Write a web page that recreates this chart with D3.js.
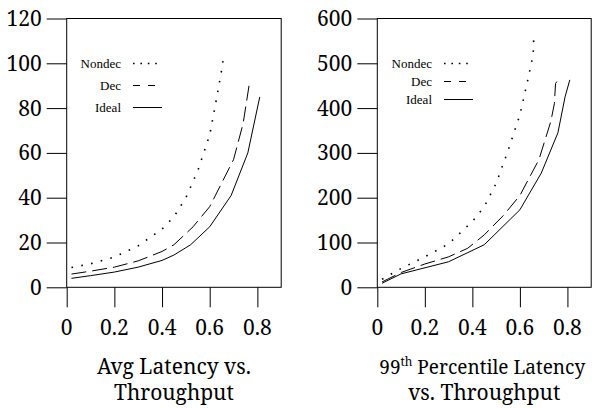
<!DOCTYPE html>
<html><head><meta charset="utf-8">
<script src="https://cdn.jsdelivr.net/npm/d3@7"></script>
<style>body{margin:0;background:#fff}svg{display:block}</style>
</head><body><svg id="c" width="595" height="408"></svg>
<script>
// ---- data ----
const seriesNames = ["Nondec", "Dec", "Ideal"];
const xTicks = [0, 0.2, 0.4, 0.6, 0.8];
const xTickLabels = ["0", "0.2", "0.4", "0.6", "0.8"];
const avgYTicks = [0, 20, 40, 60, 80, 100, 120];
const p99YTicks = [0, 100, 200, 300, 400, 500, 600];

const avgNondec = [[0.02,8.8],[0.1,10.5],[0.2,13.5],[0.3,18.5],[0.4,26],[0.45,31.5],[0.5,40],[0.55,52],[0.6,68],[0.63,85],[0.65,97],[0.66,104]];
const avgDec = [[0.02,5.9],[0.1,7.2],[0.2,9],[0.3,11.8],[0.4,16],[0.45,19],[0.53,27],[0.6,36],[0.7,57],[0.74,73],[0.765,90]];
const avgIdeal = [[0.02,4],[0.1,5.2],[0.2,6.8],[0.3,9],[0.4,12],[0.45,14.4],[0.52,19],[0.6,27],[0.69,41],[0.76,60],[0.81,85]];

const p99Nondec = [[0.02,18],[0.1,42],[0.2,68],[0.3,97],[0.4,147],[0.45,180],[0.5,232],[0.55,305],[0.6,385],[0.63,455],[0.65,505],[0.66,540],[0.655,560]];
const p99Dec = [[0.02,12],[0.1,33],[0.2,52],[0.3,68],[0.38,87],[0.45,117],[0.53,160],[0.6,205],[0.68,285],[0.73,370],[0.745,410],[0.75,455],[0.77,470]];
const p99Ideal = [[0.02,9],[0.1,30],[0.3,57],[0.45,95],[0.6,173],[0.69,255],[0.76,345],[0.79,425],[0.81,463]];

const BIG_FONT = "Noto Serif";
const SMALL_FONT = "Liberation Serif";
const BIG = 21;
const svg = d3.select("#c");
const styles = {
  Nondec: {plot: "1.6,8.4", legend: "1.6,5.8", width: 1.6},
  Dec: {plot: "15,6", legend: "7,8", width: 1},
  Ideal: {plot: null, legend: null, width: 1}
};

function addText(x, y, str, size, anchor, dy, font) {
  const t = svg.append("text").attr("x", x).attr("y", y)
    .attr("font-family", font || BIG_FONT).attr("font-size", size)
    .attr("text-anchor", anchor || "start").attr("fill", "#000");
  if (dy) t.attr("dy", dy);
  if (str !== null) t.text(str);
  return t;
}

function panel(opts) {
  const {left, right, top, bottom, yMax, yTicks, series, legendX, legendY, legendStep, title} = opts;
  const x = d3.scaleLinear().domain([0, 0.9]).range([left, right]);
  const y = d3.scaleLinear().domain([0, yMax]).range([bottom, top]);
  const g = svg.append("g");

  const ya = g.append("g").attr("transform", `translate(${left},0)`)
    .call(d3.axisLeft(y).tickValues(yTicks).tickSize(20).tickFormat(""));
  ya.select(".domain").remove();
  ya.selectAll("line").attr("stroke", "#000");
  yTicks.forEach(v => addText(left - 25, y(v), String(v), BIG, "end", "0.36em"));

  const xa = g.append("g").attr("transform", `translate(0,${bottom})`)
    .call(d3.axisBottom(x).tickValues(xTicks).tickSize(20).tickFormat(""));
  xa.select(".domain").remove();
  xa.selectAll("line").attr("stroke", "#000");
  xTicks.forEach((v, i) => addText(x(v), bottom + 48, xTickLabels[i], BIG, "middle"));

  g.append("rect").attr("x", x(0)).attr("y", y(yMax)).attr("width", x(0.9) - x(0)).attr("height", y(0) - y(yMax))
    .attr("fill", "none").attr("stroke", "#000").attr("stroke-width", 1);

  const line = d3.line().x(d => x(d[0])).y(d => y(d[1]));
  series.forEach((s, i) => {
    const st = styles[seriesNames[i]];
    g.append("path").datum(s).attr("d", line).attr("fill", "none").attr("stroke", "#000")
      .attr("stroke-width", st.width).attr("stroke-dasharray", st.plot);
    const ly = legendY + i * legendStep;
    addText(legendX, ly, seriesNames[i], 13, "end", "0.35em", SMALL_FONT);
    g.append("line").attr("x1", legendX + 12).attr("x2", legendX + 41).attr("y1", ly).attr("y2", ly)
      .attr("stroke", "#000").attr("stroke-width", st.width).attr("stroke-dasharray", st.legend);
  });

  title((left + right) / 2);
}

panel({left: 66.7, right: 281.2, top: 18.5, bottom: 287.3, yMax: 120, yTicks: avgYTicks,
  series: [avgNondec, avgDec, avgIdeal], legendX: 121, legendY: 63.5, legendStep: 22,
  title: cx => { addText(cx, 374, "Avg Latency vs.", BIG, "middle"); addText(cx, 400, "Throughput", BIG, "middle"); }});

panel({left: 377.3, right: 591.2, top: 18.5, bottom: 287.3, yMax: 600, yTicks: p99YTicks,
  series: [p99Nondec, p99Dec, p99Ideal], legendX: 432, legendY: 63.5, legendStep: 18,
  title: cx => {
    const t = addText(cx - 2, 374, null, 19, "middle");
    t.append("tspan").text("99");
    t.append("tspan").attr("dy", -8).attr("font-size", 12).text("th");
    t.append("tspan").attr("dy", 8).text(" Percentile Latency");
    addText(cx, 400, "vs. Throughput", BIG, "middle");
  }});
</script></body></html>
